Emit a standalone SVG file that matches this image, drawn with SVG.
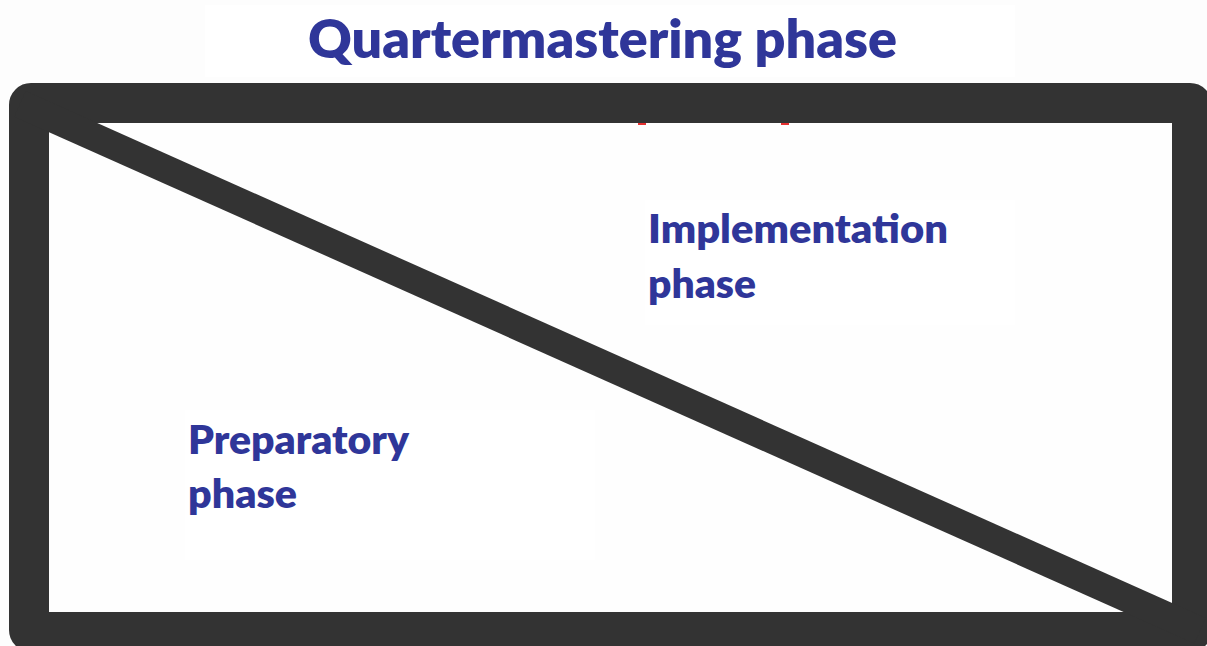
<svg xmlns="http://www.w3.org/2000/svg" width="1207" height="646" viewBox="0 0 1207 646">
  <style>
    .lbl { font-family: Lato, "Open Sans", "Liberation Sans", sans-serif; font-weight: 800; fill: #2F3699; }
    .dark { stroke: #333333; fill: none; }
  </style>
  <rect x="0" y="0" width="1207" height="646" fill="#FDFDFD"/>
  <g id="title">
    <rect x="205" y="5" width="810" height="72" fill="#FFFFFF"/>
    <text class="lbl" x="308" y="58" font-size="52" textLength="589" lengthAdjust="spacingAndGlyphs">Quartermastering phase</text>
  </g>
  <g id="frame">
    <rect x="49" y="123" width="1123" height="489" fill="#FEFEFE"/>
    <rect class="dark" x="29" y="103" width="1163" height="529" stroke-width="40" rx="2" stroke-linejoin="round"/>
    <rect x="638" y="123" width="8" height="2" fill="#E53030"/>
    <rect x="781" y="123" width="8" height="2" fill="#E53030"/>
  </g>
  <g id="connectors">
    <line class="dark" x1="20" y1="103.9" x2="1200" y2="630.8" stroke-width="28"/>
  </g>
  <g id="label-implementation">
    <rect x="645" y="200" width="370" height="125" fill="#FFFFFF"/>
    <text class="lbl" x="648" y="243" font-size="39" textLength="300" lengthAdjust="spacingAndGlyphs">Implementation</text>
    <text class="lbl" x="648" y="298" font-size="39" textLength="108" lengthAdjust="spacingAndGlyphs">phase</text>
  </g>
  <g id="label-preparatory">
    <rect x="185" y="410" width="410" height="150" fill="#FFFFFF"/>
    <text class="lbl" x="188" y="454" font-size="39" textLength="221" lengthAdjust="spacingAndGlyphs">Preparatory</text>
    <text class="lbl" x="188" y="508" font-size="39" textLength="109" lengthAdjust="spacingAndGlyphs">phase</text>
  </g>
</svg>
